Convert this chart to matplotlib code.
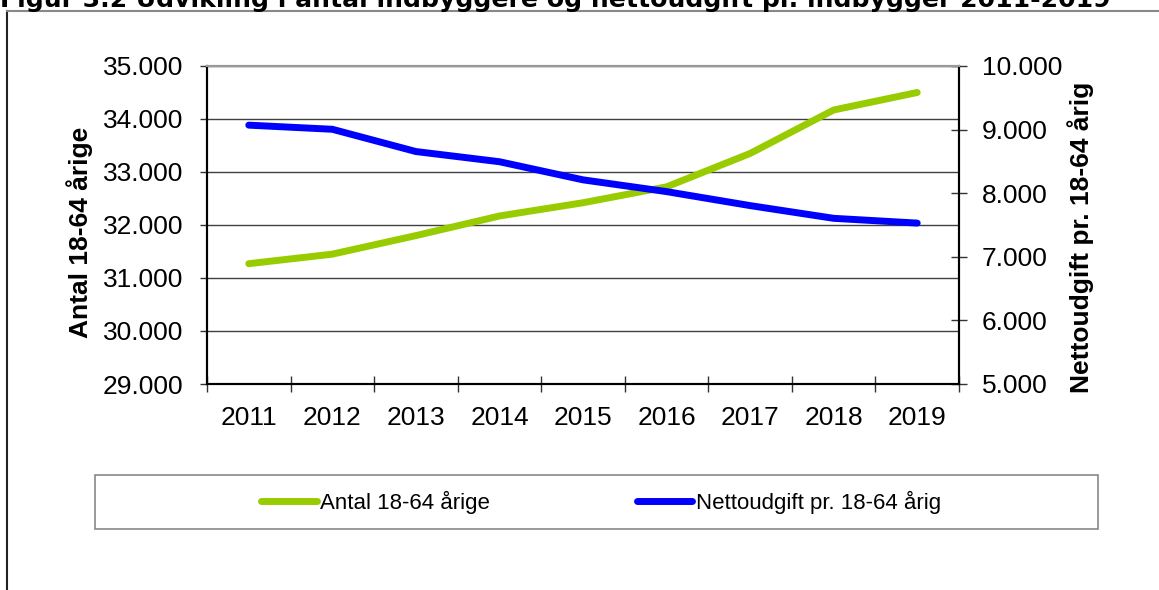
import matplotlib
matplotlib.use("Agg")
import matplotlib.pyplot as plt
from matplotlib.patches import Rectangle
from matplotlib.lines import Line2D
from matplotlib.ticker import FuncFormatter

years = ["2011", "2012", "2013", "2014", "2015", "2016", "2017", "2018", "2019"]
antal = [31270, 31450, 31800, 32170, 32420, 32720, 33350, 34170, 34500]
netto = [9070, 9005, 8655, 8495, 8210, 8025, 7805, 7605, 7530]
left_ticks = [29000, 30000, 31000, 32000, 33000, 34000, 35000]
right_ticks = [5000, 6000, 7000, 8000, 9000, 10000]
title = "Figur 3.2 Udvikling i antal indbyggere og nettoudgift pr. indbygger 2011-2019"
left_label = "Antal 18-64 årige"
right_label = "Nettoudgift pr. 18-64 årig"

GREEN = "#99CC00"
BLUE = "#0000FF"
FONT = "Liberation Sans"
LW = 5.0

def dk(v, pos=None):
    return f"{int(v):,}".replace(",", ".")

fig = plt.figure(figsize=(11.59, 5.90), dpi=100)
fig.patch.set_facecolor("white")

ax = fig.add_axes([207/1159, 1-384/590, (959-207)/1159, (384-66)/590])
ax2 = ax.twinx()

x = list(range(len(years)))
ax.plot(x, antal, color=GREEN, lw=LW, solid_capstyle="round", solid_joinstyle="round", zorder=3)
ax2.plot(x, netto, color=BLUE, lw=LW, solid_capstyle="round", solid_joinstyle="round", zorder=3)

ax.set_xlim(-0.5, len(years)-0.5)
ax.set_ylim(29000, 35000)
ax2.set_ylim(5000, 10000)

ax.set_yticks(left_ticks)
ax.yaxis.set_major_formatter(FuncFormatter(dk))
ax2.set_yticks(right_ticks)
ax2.yaxis.set_major_formatter(FuncFormatter(dk))

# x: category labels at centres, tick marks at boundaries
ax.set_xticks([i + 0.5 for i in range(-1, len(years))])
ax.set_xticklabels([])
ax.set_xticks(x, minor=True)
ax.set_xticklabels(years, minor=True)
ax.tick_params(axis="x", which="major", direction="inout", length=12, width=1, color="#333333")
ax.tick_params(axis="x", which="minor", length=0, pad=16, labelsize=19)
for t in ax.get_xticklabels(minor=True):
    t.set_fontfamily(FONT)

ax.tick_params(axis="y", direction="out", length=5, width=1, color="#333333", pad=12, labelsize=19)
ax2.tick_params(axis="y", direction="inout", length=11, width=1, color="#333333", pad=11, labelsize=19)
for t in ax.get_yticklabels() + ax2.get_yticklabels():
    t.set_fontfamily(FONT)

ax.yaxis.grid(True, color="#404040", lw=1)
ax.set_axisbelow(True)

for a in (ax, ax2):
    a.spines["top"].set_color("#999999")
    a.spines["top"].set_linewidth(1.5)
    for s in ("left", "bottom", "right"):
        a.spines[s].set_color("black")
        a.spines[s].set_linewidth(1.5)
ax.patch.set_visible(False)

fig.text(80/1159, 1-232/590, left_label, rotation=90, ha="center", va="center",
         fontsize=19, fontweight="bold", fontfamily=FONT)
fig.text(1081/1159, 1-237/590, right_label, rotation=90, ha="center", va="center",
         fontsize=19, fontweight="bold", fontfamily=FONT)

# frame lines of the figure
fig.add_artist(Line2D([7/1159, 7/1159], [0, 1-11/590], transform=fig.transFigure, color="#222222", lw=1.5))
fig.add_artist(Line2D([7/1159, 1], [1-11/590, 1-11/590], transform=fig.transFigure, color="#888888", lw=1.5))

# title, clipped at top
tt = fig.text(0.0, 1-6.5/590, title, ha="left", va="baseline", fontsize=16,
              fontweight="bold", fontfamily="DejaVu Sans")
fig.canvas.draw()
w = tt.get_window_extent().width
tt.set_fontsize(16 * 1113 / w)

# legend box
fig.add_artist(Rectangle((95/1159, 1-529/590), (1098-95)/1159, (529-475)/590,
                         transform=fig.transFigure, fill=False, edgecolor="#888888", lw=1.2))
handles = [Line2D([], [], color=GREEN, lw=LW, solid_capstyle="round"),
           Line2D([], [], color=BLUE, lw=LW, solid_capstyle="round")]
leg = fig.legend(handles, [left_label, right_label], loc="center",
                 bbox_to_anchor=(601/1159, 1-502/590), ncol=2, frameon=False,
                 handlelength=2.5, handletextpad=0.15, columnspacing=6.6,
                 prop={"family": FONT, "size": 16})

fig.savefig("out.png", dpi=100, facecolor="white")
